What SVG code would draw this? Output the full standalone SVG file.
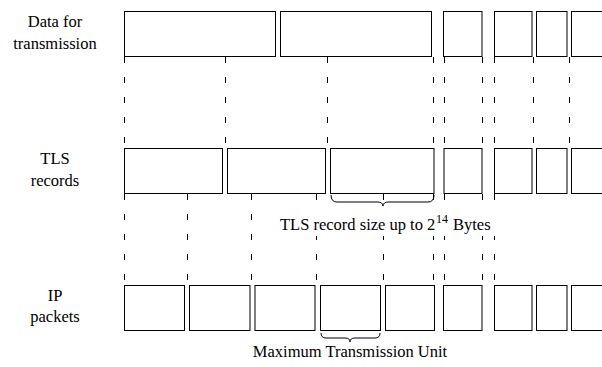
<svg xmlns="http://www.w3.org/2000/svg" width="602" height="367" viewBox="0 0 602 367">
<style>
.box{fill:#fff;stroke:#000;stroke-width:1}
.dash{stroke:#000;stroke-width:1;stroke-dasharray:6 14;fill:none}
.brace{fill:none;stroke:#000;stroke-width:1}
.lbl{text-anchor:middle}
</style>
<g id="connectors">
<path class="dash" d="M124.5,57V148M225.5,57V148M327.5,57V148M433.5,57V148M444.5,57V148M482.5,57V148M494.5,57V148M533.5,57V148M569.5,57V148"/>
<path class="dash" d="M124.5,194V285M187.5,194V285M251.5,194V285M316.5,194V285M383.5,194V285M433.5,194V285M444.5,194V285M482.5,194V285M494.5,194V285"/>
</g>
<g font-family="Liberation Serif, Times New Roman, serif" font-size="16.5" fill="#000">
<g id="data-label"><text class="lbl" x="55" y="27">Data for</text><text class="lbl" x="55" y="49">transmission</text></g>
<g id="tls-label"><text class="lbl" x="55" y="164">TLS</text><text class="lbl" x="55" y="186">records</text></g>
<g id="ip-label"><text class="lbl" x="55" y="301">IP</text><text class="lbl" x="55" y="322">packets</text></g>
</g>
<g id="data-row">
<rect class="box" x="124.5" y="11.5" width="151" height="45"/>
<rect class="box" x="280.5" y="11.5" width="151" height="45"/>
<rect class="box" x="443.5" y="11.5" width="38.5" height="45"/>
<rect class="box" x="494.5" y="11.5" width="37.5" height="45"/>
<rect class="box" x="536.5" y="11.5" width="30.5" height="45"/>
<rect class="box" x="571.5" y="11.5" width="40" height="45"/>
</g>
<g id="tls-row">
<rect class="box" x="124.5" y="148.5" width="98" height="45"/>
<rect class="box" x="227.5" y="148.5" width="98" height="45"/>
<rect class="box" x="330.5" y="148.5" width="103.5" height="45"/>
<rect class="box" x="444" y="148.5" width="38" height="45"/>
<rect class="box" x="494.5" y="148.5" width="37.5" height="45"/>
<rect class="box" x="536.5" y="148.5" width="30.5" height="45"/>
<rect class="box" x="571.5" y="148.5" width="40" height="45"/>
</g>
<g id="ip-row">
<rect class="box" x="124.5" y="285.5" width="60" height="45"/>
<rect class="box" x="189.5" y="285.5" width="60.5" height="45"/>
<rect class="box" x="255" y="285.5" width="60" height="45"/>
<rect class="box" x="320.5" y="285.5" width="60" height="45"/>
<rect class="box" x="385.5" y="285.5" width="49" height="45"/>
<rect class="box" x="443.5" y="285.5" width="38.5" height="45"/>
<rect class="box" x="494.5" y="285.5" width="37.5" height="45"/>
<rect class="box" x="536.5" y="285.5" width="30.5" height="45"/>
<rect class="box" x="571.5" y="285.5" width="40" height="45"/>
</g>
<g id="tls-size">
<rect x="272" y="205" width="228" height="31" fill="#fff"/>
<path class="brace" d="M331,195 Q331,202 337,202 L377,202 Q383,202 383,206 Q383,202 389,202 L428,202 Q434,202 434,195"/>
<text font-family="Liberation Serif, Times New Roman, serif" font-size="16.5" fill="#000" x="280" y="230">TLS record size up to 2<tspan x="436" y="223" font-size="12">14</tspan><tspan x="453" y="230">Bytes</tspan></text>
</g>
<g id="mtu">
<path class="brace" d="M321,333 Q321,338 326,338 L345,338 Q350,338 350,342 Q350,338 355,338 L375,338 Q380,338 380,333"/>
<text class="lbl" font-family="Liberation Serif, Times New Roman, serif" font-size="16.5" fill="#000" x="350" y="357">Maximum Transmission Unit</text>
</g>
</svg>
